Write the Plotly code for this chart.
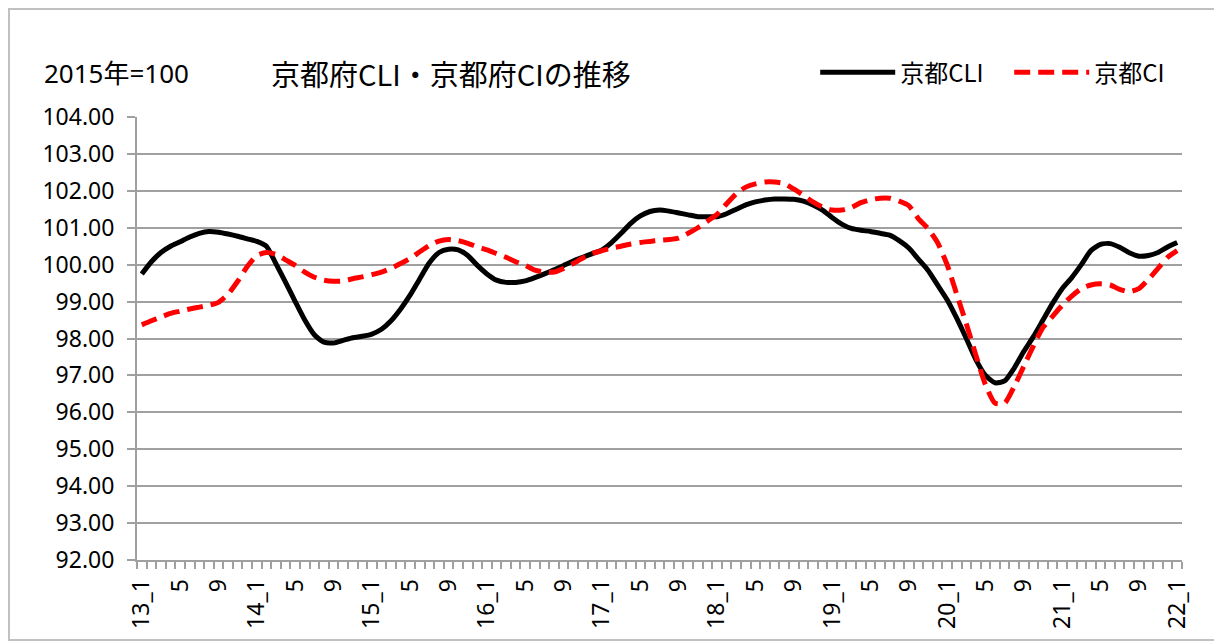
import plotly.graph_objects as go

months = []
for y in range(13, 22):
    for m in range(1, 13):
        months.append(f"{y}_{m}")
months.append("22_1")

cli = [99.75, 100.08, 100.33, 100.50, 100.62, 100.75, 100.85, 100.90, 100.88, 100.83,
       100.77, 100.70, 100.63, 100.50, 100.02, 99.52, 99.00, 98.50, 98.10, 97.90,
       97.88, 97.95, 98.02, 98.06, 98.12, 98.25, 98.48, 98.80, 99.18, 99.62,
       100.05, 100.33, 100.42, 100.40, 100.25, 99.98, 99.75, 99.58, 99.52, 99.52,
       99.56, 99.65, 99.75, 99.86, 99.98, 100.10, 100.20, 100.30, 100.40, 100.60,
       100.85, 101.12, 101.32, 101.44, 101.48, 101.45, 101.40, 101.35, 101.30, 101.30,
       101.30, 101.38, 101.50, 101.62, 101.70, 101.75, 101.78, 101.78, 101.77, 101.72,
       101.62, 101.48, 101.28, 101.10, 100.98, 100.93, 100.90, 100.85, 100.80, 100.65,
       100.45, 100.15, 99.85, 99.45, 99.05, 98.55, 98.00, 97.43, 97.00, 96.80,
       96.85, 97.20, 97.65, 98.05, 98.50, 98.95, 99.35, 99.65, 100.00, 100.38,
       100.55, 100.57, 100.47, 100.32, 100.23, 100.25, 100.33, 100.48, 100.60]

ci = [98.37, 98.48, 98.58, 98.68, 98.74, 98.80, 98.85, 98.90, 98.98, 99.20,
      99.55, 99.95, 100.25, 100.33, 100.28, 100.13, 99.98, 99.80, 99.66, 99.58,
      99.55, 99.56, 99.62, 99.67, 99.73, 99.80, 99.90, 100.03, 100.17, 100.35,
      100.52, 100.64, 100.68, 100.65, 100.58, 100.48, 100.40, 100.30, 100.20, 100.08,
      99.98, 99.85, 99.80, 99.80, 99.90, 100.03, 100.18, 100.30, 100.38, 100.45,
      100.50, 100.56, 100.60, 100.63, 100.66, 100.68, 100.72, 100.85, 101.00, 101.18,
      101.36, 101.65, 101.92, 102.10, 102.19, 102.24, 102.24, 102.20, 102.05, 101.88,
      101.70, 101.56, 101.48, 101.48, 101.55, 101.68, 101.76, 101.80, 101.80, 101.72,
      101.60, 101.25, 100.98, 100.60, 100.00, 99.20, 98.40, 97.55, 96.75, 96.25,
      96.25, 96.70, 97.25, 97.80, 98.30, 98.60, 98.90, 99.15, 99.35, 99.45,
      99.48, 99.45, 99.33, 99.27, 99.35, 99.60, 99.90, 100.20, 100.38]

tick_idx = list(range(0, len(months), 4))
tick_text = [months[i] if months[i].endswith("_1") else months[i].split("_")[1] for i in tick_idx]

FONT = "Noto Sans, Noto Sans CJK JP"
CJK = "Noto Sans CJK JP"
GRID = "#a0a0a0"

x = list(range(len(months)))

fig = go.Figure()
fig.add_trace(go.Scatter(x=x, y=cli, mode="lines", name="京都CLI",
                         line=dict(color="black", width=5, shape="spline", smoothing=0.6)))
fig.add_trace(go.Scatter(x=x, y=ci, mode="lines", name="京都CI",
                         line=dict(color="#ff0000", width=5, shape="spline", smoothing=0.6, dash="16px,8px")))

fig.update_layout(
    width=1214, height=634,
    margin=dict(l=129, r=40, t=109, b=82, autoexpand=False),
    paper_bgcolor="white", plot_bgcolor="white",
    font=dict(family=FONT, size=23, color="black"),
    showlegend=True,
    legend=dict(orientation="h", x=0.649, y=1.10, xanchor="left", yanchor="middle",
                font=dict(family=CJK, size=24), itemwidth=75, entrywidth=104,
                bgcolor="rgba(0,0,0,0)"),
    xaxis=dict(range=[-0.5, len(months) - 0.5], tickmode="array", tickvals=tick_idx,
               ticktext=tick_text, tickangle=-90, ticks="", showgrid=False,
               showline=True, linecolor=GRID, linewidth=2, zeroline=False,
               ticklabelstandoff=8, tickfont=dict(size=23),
               minor=dict(tickmode="array", tickvals=[i - 0.5 for i in range(len(months) + 1)],
                          ticks="outside", ticklen=7, tickcolor=GRID, tickwidth=1.5)),
    yaxis=dict(range=[92, 104], tickmode="linear", tick0=92, dtick=1, tickformat=".2f",
               showgrid=True, gridcolor=GRID, gridwidth=2, showline=True, linecolor=GRID,
               linewidth=2, ticks="outside", ticklen=8, tickcolor=GRID, tickwidth=2,
               zeroline=False, ticklabelstandoff=8, tickfont=dict(size=23)),
    annotations=[
        dict(text="2015年=100", xref="paper", yref="paper", x=-0.091, y=1.10,
             xanchor="left", yanchor="middle", showarrow=False, font=dict(size=26)),
        dict(text="京都府CLI・京都府CIの推移", xref="paper", yref="paper", x=0.126, y=1.10,
             xanchor="left", yanchor="middle", showarrow=False, font=dict(family=CJK, size=29)),
    ],
    shapes=[dict(type="rect", xref="paper", yref="paper", x0=-0.1225, x1=1.06, y0=-0.1806, y1=1.2438,
                 line=dict(color="#c0c0c0", width=2), fillcolor="rgba(0,0,0,0)", layer="below")],
)

fig.write_html("out.html")
